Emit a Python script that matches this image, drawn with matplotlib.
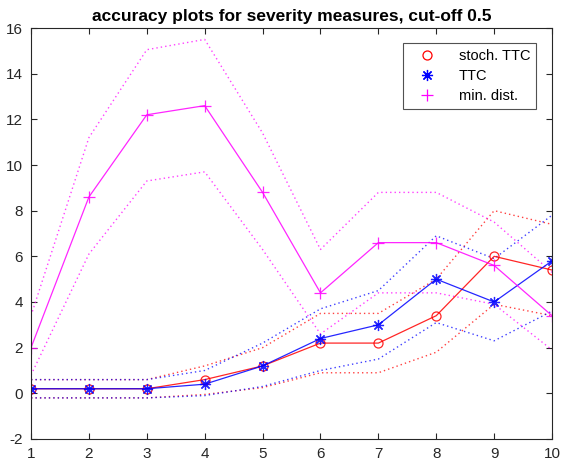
import matplotlib.pyplot as plt
from matplotlib.lines import Line2D

plt.rcParams['font.family'] = ['Liberation Sans', 'DejaVu Sans']
plt.rcParams['axes.unicode_minus'] = False

x = list(range(1, 11))

# stochastic TTC: mean and bounds
stoch_mean = [0.2, 0.2, 0.2, 0.6, 1.2, 2.2, 2.2, 3.4, 6.0, 5.4]
stoch_upper = [0.6, 0.6, 0.6, 1.2, 2.0, 3.5, 3.5, 5.0, 8.0, 7.4]
stoch_lower = [-0.2, -0.2, -0.2, -0.05, 0.25, 0.9, 0.9, 1.8, 3.9, 3.4]

# TTC
ttc_mean = [0.2, 0.2, 0.2, 0.4, 1.2, 2.4, 3.0, 5.0, 4.0, 5.8]
ttc_upper = [0.6, 0.6, 0.6, 1.0, 2.2, 3.7, 4.5, 6.9, 5.9, 7.8]
ttc_lower = [-0.2, -0.2, -0.2, -0.1, 0.3, 1.0, 1.5, 3.1, 2.3, 3.6]

# minimum distance
md_mean = [2.0, 8.6, 12.2, 12.6, 8.8, 4.4, 6.6, 6.6, 5.6, 3.4]
md_upper = [3.4, 11.2, 15.05, 15.5, 11.4, 6.3, 8.8, 8.8, 7.5, 5.3]
md_lower = [0.8, 6.1, 9.3, 9.7, 6.3, 2.6, 4.4, 4.4, 3.9, 1.9]

labels = ['stoch. TTC', 'TTC', 'min. dist.']
colors = ['#ff0000', '#0000ff', '#ff00ff']
markers = ['o', (8, 2, 0), '+']
msizes = [6.5, 8, 9]

fig = plt.figure(figsize=(5.61, 4.70), dpi=100)
ax = fig.add_axes([0.0553, 0.066, 0.9287, 0.8744])

dot = (0, (1, 2.2))
series = [(stoch_mean, stoch_upper, stoch_lower),
          (ttc_mean, ttc_upper, ttc_lower),
          (md_mean, md_upper, md_lower)]

for (m, up, lo), c in zip(series, colors):
    ax.plot(x, up, color=c, linestyle=dot, linewidth=1.0, alpha=0.75)
    ax.plot(x, lo, color=c, linestyle=dot, linewidth=1.0, alpha=0.75)

for (m, up, lo), c, mk, ms in zip(series, colors, markers, msizes):
    ax.plot(x, m, color=c, linewidth=0.9, alpha=0.85, marker=mk,
            markersize=ms, markerfacecolor='none', markeredgewidth=0.9)

ax.set_xlim(1, 10)
ax.set_ylim(-2, 16)
ax.set_xticks(x)
ax.set_yticks(range(-2, 17, 2))
ax.tick_params(direction='in', top=True, right=True, length=4, width=0.8,
               labelsize=11, colors='#262626', pad=6)
for s in ax.spines.values():
    s.set_color('#262626')
    s.set_linewidth(0.8)

ax.set_title('accuracy plots for severity measures, cut-off 0.5',
             fontsize=12.5, fontweight='bold', pad=5)

handles = [Line2D([], [], color=c, marker=mk, linestyle='none', markersize=ms,
                  markerfacecolor='none', markeredgewidth=0.9)
           for c, mk, ms in zip(colors, markers, msizes)]
leg = ax.legend(handles, labels, loc='upper right', bbox_to_anchor=(0.9693, 0.9635),
                fontsize=10.5, frameon=True, fancybox=False, edgecolor='#262626',
                handletextpad=1.0, borderpad=0.4, labelspacing=0.42, handlelength=2.4,
                borderaxespad=0.0)
leg.get_frame().set_linewidth(0.8)

fig.savefig('out.png', dpi=100)
